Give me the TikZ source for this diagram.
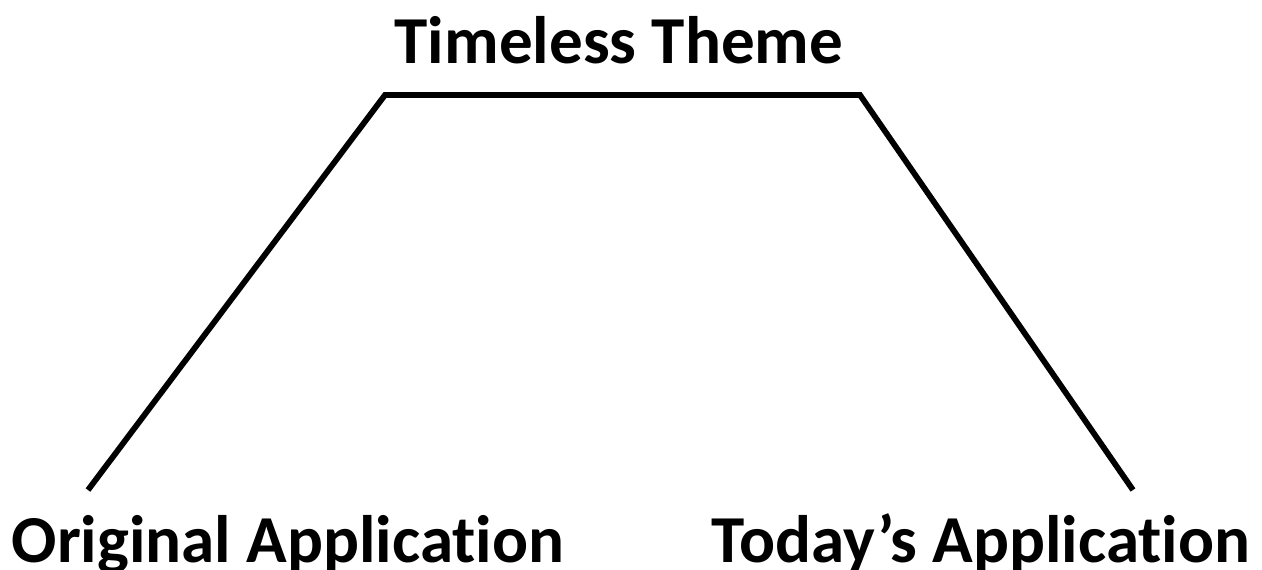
\documentclass[tikz,border=0pt]{standalone}
\usepackage{fontspec}
\setmainfont{Carlito}[RawFeature={-liga}]
\usetikzlibrary{positioning}

\tikzset{
  label text/.style={font=\fontsize{38.2}{46}\selectfont\bfseries, inner sep=0pt, anchor=base},
  leg/.style={line width=3.3pt, line join=miter}
}

\begin{document}
\begin{tikzpicture}[x=0.02cm, y=-0.02cm]
    \useasboundingbox (0,0) rectangle (1262,569);

    \node[label text] (theme) at (619, 63) {Timeless Theme};
    \node[label text] (orig)  at (288, 562) {Original Application};
    \node[label text] (today) at (981, 562) {Today’s Application};

    \coordinate (origtop)  at (88, 490);
    \coordinate (topleft)  at (385, 95);
    \coordinate (topright) at (860, 95);
    \coordinate (todaytop) at (1133, 490);

    \draw[leg] (origtop) -- (topleft) -- (topright) -- (todaytop);
  \end{tikzpicture}
\end{document}
